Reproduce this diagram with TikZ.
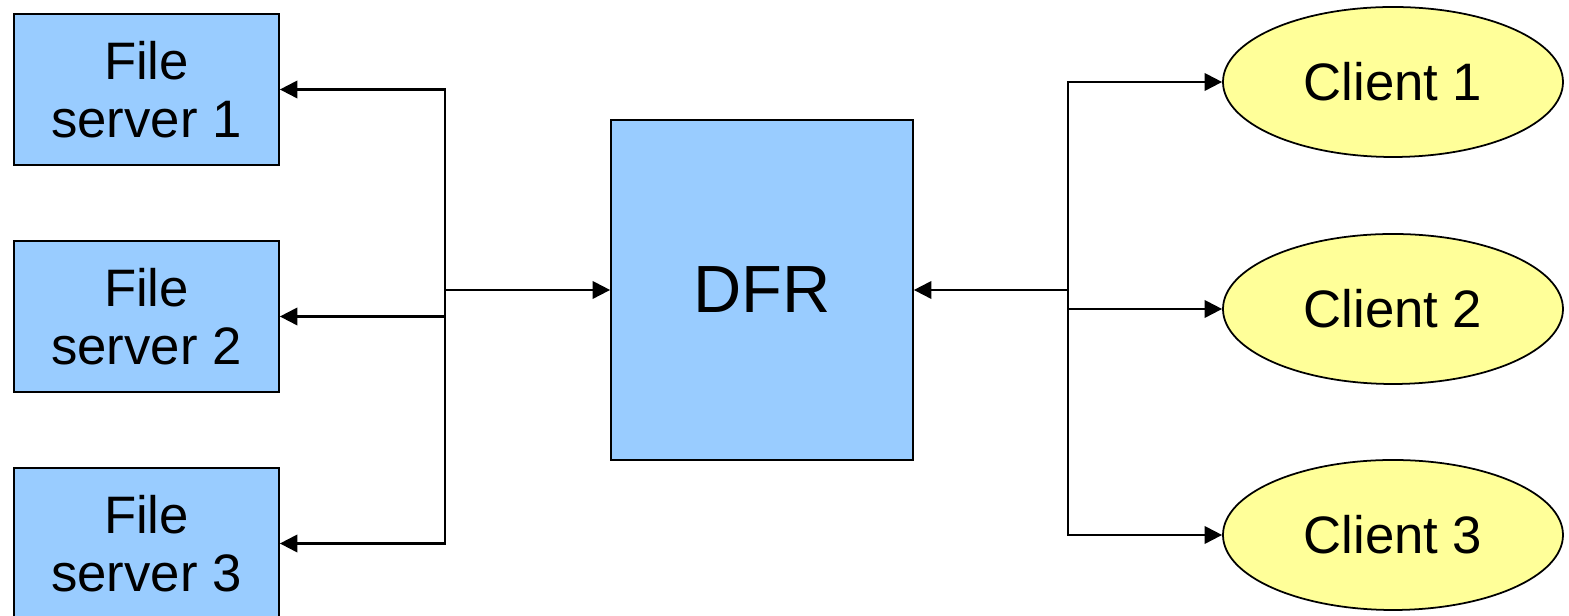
\documentclass[tikz,border=0pt]{standalone}
\usepackage{fontspec}
\setmainfont{Liberation Sans}
\usepackage{tikz}
\usetikzlibrary{arrows.meta, positioning, shapes.geometric}
\definecolor{fsblue}{HTML}{99CCFF}
\definecolor{clyellow}{HTML}{FFFF99}
\tikzset{
  fsbox/.style={draw=black, fill=fsblue, line width=0.5pt, align=center,
                minimum width=2.65cm, minimum height=1.51cm, inner sep=0pt,
                font=\fontsize{15}{16.5}\selectfont},
  dfrbox/.style={draw=black, fill=fsblue, line width=0.5pt,
                 minimum width=3.02cm, minimum height=3.40cm, inner sep=0pt,
                 font=\fontsize{19}{21}\selectfont},
  clnode/.style={ellipse, draw=black, fill=clyellow, line width=0.5pt,
                 minimum width=3.40cm, minimum height=1.50cm, inner sep=0pt,
                 font=\fontsize{15}{17}\selectfont},
  arr/.style={-{Triangle[length=5pt,width=5pt]}, line width=0.6pt, black},
}
\begin{document}
\begin{tikzpicture}
  \useasboundingbox (0,0) rectangle (15.69,-6.16);
  % file servers
  \node[fsbox] (fs1) at (1.465,-0.895) {File\\server 1};
  \node[fsbox] (fs2) at (1.465,-3.165) {File\\server 2};
  \node[fsbox] (fs3) at (1.465,-5.435) {File\\server 3};
  % router
  \node[dfrbox] (dfr) at (7.62,-2.90) {DFR};
  % clients
  \node[clnode] (c1) at (13.93,-0.82) {Client 1};
  \node[clnode] (c2) at (13.93,-3.09) {Client 2};
  \node[clnode] (c3) at (13.93,-5.35) {Client 3};
  % buses
  \coordinate (lbus) at (4.45,-2.90);
  \coordinate (rbus) at (10.68,-2.90);
  \draw[arr] (lbus) -- (dfr.west);
  \draw[arr] (lbus) |- (fs1.east);
  \draw[arr] (lbus) |- (fs2.east);
  \draw[arr] (lbus) |- (fs3.east);
  \draw[arr] (rbus) -- (dfr.east);
  \draw[arr] (rbus) |- (c1.west);
  \draw[arr] (rbus) |- (c2.west);
  \draw[arr] (rbus) |- (c3.west);
\end{tikzpicture}
\end{document}
